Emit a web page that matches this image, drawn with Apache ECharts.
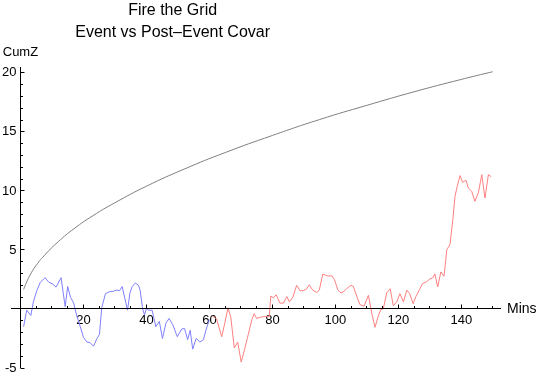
<!DOCTYPE html>
<html lang="en">
<head>
    <meta charset="UTF-8">
    <title>Fire the Grid</title>
    <script type="text/javascript" src="https://cdn.jsdelivr.net/npm/echarts@6/dist/echarts.min.js"></script>
    <style>
        html, body { margin: 0; padding: 0; background: #fff; }
    </style>
</head>
<body>

<div id="myChart" style="width: 540px;height: 377px;"></div>

<script type="text/javascript">
    // 数据
    var eventMins = [1, 2, 3.3, 4.1, 5.2, 6.3, 7.8, 8.9, 10.3, 11.3, 12.9, 14.2, 15, 15.9, 16.9, 17.9, 19, 20,
        21.1, 22.1, 23.2, 24.3, 25.1, 25.8, 27, 28.2, 29.5, 30.5, 31.5, 32.3, 34, 34.8, 35.5, 36.5, 37.5, 38,
        38.8, 39.4, 40, 40.7, 41.8, 43, 44.1, 45.1, 46.2, 47.2, 48.4, 49.8, 51.2, 52.1, 53.1, 53.9, 54.7,
        55.8, 57, 58.1, 59, 60];
    var eventZ = [-1.5, -0.1, -0.55, 0.6, 1.55, 2.25, 2.65, 2.3, 2.1, 1.85, 2.65, 0.2, 1.9, 1.0, 0.5, -0.6, -1.5, -2.4,
        -2.8, -2.85, -3.15, -2.5, -2.15, 0.1, 1.3, 1.45, 1.5, 1.6, 1.55, 1.9, -0.1, 1.4, 1.9, 2.2, 2.0, 1.6,
        0, -0.5, 0.05, -0.1, -0.1, -1.5, -1.05, -2.5, -1.2, -0.8, -1.35, -2.35, -1.7, -1.65, -2.6, -1.8, -3.4,
        -2.5, -2.8, -2.6, -1.7, -0.9];

    var postMins = [61, 62.3, 63.9, 64.9, 65.9, 66.8, 67.9, 69, 70.1, 71.2, 72.3, 73.5, 74.2, 75, 76.1, 77.5, 79,
        79.5, 80.3, 81.2, 82.4, 83.5, 84.6, 85.4, 86.5, 87.7, 88.8, 89.8, 90.9, 91.7, 92.8, 94.1, 94.9, 96,
        97.5, 98.9, 99.7, 100.8, 101.8, 102.5, 103.6, 104.9, 105.7, 106.8, 107.8, 109.1, 109.7, 110.5, 111.6,
        112.6, 113.6, 114.4, 115.2, 116.3, 117.4, 118.4, 119.5, 120.5, 121.6, 122.7, 123.6, 124.7, 125.6,
        126.7, 127.7, 129, 130, 130.9, 131.6, 132.5, 133.5, 134.5, 135.4, 136.4, 137.3, 138, 138.7, 139.6,
        140.4, 141.5, 142.2, 143.3, 144.3, 145.4, 146.5, 147.5, 148.6, 149.5];
    var postZ = [-0.6, -0.85, -2.35, -1.2, 0.1, -0.7, -3.3, -2.8, -4.5, -3.4, -2.2, -0.9, -0.4, -0.8, -0.7, -0.65, -0.65,
        1.1, 0.95, 1.2, 0.5, 0.5, 1.05, 0.6, 1.0, 2.0, 1.55, 1.55, 1.7, 2.05, 1.6, 1.4, 1.6, 2.95,
        2.8, 2.8, 2.5, 1.6, 1.35, 1.45, 1.72, 2.0, 1.92, 1.07, 0.37, 0.23, 0.08, 1.16, -0.42,
        -1.55, -0.62, -0.06, 0, 1.36, 1.72, 0.28, 0.6, 1.3, 0.6, 1.6, 1.3, 0.45, 1.07,
        1.64, 2.15, 2.32, 2.54, 2.63, 2.97, 1.86, 3.14, 2.77, 5.03, 5.45, 7.57, 9.55, 10.4, 11.3,
        10.73, 10.9, 10.25, 9.97, 9.12, 9.83, 11.38, 9.4, 11.38, 11.2];

    var boundMins = [1, 2, 3, 5, 8, 12, 17, 23, 30, 40, 52, 65, 80, 95, 110, 125, 140, 150];
    var boundZ = [1.65, 2.3, 2.85, 3.7, 4.65, 5.7, 6.8, 7.9, 9.0, 10.4, 11.85, 13.25, 14.7, 16.05, 17.25, 18.4, 19.45, 20.1];

    var xLabels = [20, 40, 60, 80, 100, 120, 140];
    var yLabels = [-5, 5, 10, 15, 20];

    function pairs(xs, ys) {
        var out = [];
        for (var i = 0; i < xs.length; i++) {
            out.push([xs[i], ys[i]]);
        }
        return out;
    }

    // 小刻度 (minor ticks)
    var xMinor = [];
    for (var t = 5; t <= 150; t += 5) {
        if (t % 20 !== 0) xMinor.push(t);
    }
    var yMinor = [];
    for (var u = -4; u <= 20; u++) {
        if (u % 5 !== 0) yMinor.push(u);
    }

    var font = 'Liberation Sans, Arial, sans-serif';

    // 坐标范围 + 轴交叉位置 (axes cross at x=0, y=0)
    var xMin = -3, xMax = 152.6, yMin = -5, yMax = 20.5;
    var gridL = 11, gridR = 39, gridT = 67, gridB = 9;
    var plotW = 540 - gridL - gridR, plotH = 377 - gridT - gridB;
    var xPerPx = (xMax - xMin) / plotW, yPerPx = (yMax - yMin) / plotH;
    var xOffset = -(0 - yMin) / yPerPx;   // move x labels up to y = 0
    var yOffset = -(0 - xMin) / xPerPx;   // move y labels right to x = 0

    var seriesList = [{
        name: 'bound',
        type: 'line',
        data: pairs(boundMins, boundZ),
        smooth: true,
        showSymbol: false,
        lineStyle: { color: '#808080', width: 1 },
        z: 2
    }, {
        name: 'event',
        type: 'line',
        data: pairs(eventMins, eventZ),
        showSymbol: false,
        lineStyle: { color: '#8080ff', width: 1 },
        z: 2
    }, {
        name: 'post',
        type: 'line',
        data: pairs(postMins, postZ),
        showSymbol: false,
        lineStyle: { color: '#ff8080', width: 1 },
        z: 2
    }];

    var myChart = echarts.init(document.getElementById('myChart'));

    myChart.setOption({
        animation: false,
        backgroundColor: '#fff',
        title: {
            text: 'Fire the Grid\nEvent vs Post\u2013Event Covar',
            left: 'center',
            top: 0,
            padding: 0,
            textAlign: 'center',
            textStyle: {
                fontFamily: font,
                fontSize: 16,
                fontWeight: 'normal',
                color: '#000',
                lineHeight: 22
            }
        },
        grid: {
            left: gridL,
            right: gridR,
            top: gridT,
            bottom: gridB,
            containLabel: false,
            outerBoundsMode: 'none'
        },
        xAxis: {
            type: 'value',
            min: xMin,
            max: xMax,
            position: 'bottom',
            offset: xOffset,
            name: 'Mins',
            nameLocation: 'end',
            nameGap: 6,
            nameTextStyle: { fontFamily: font, fontSize: 14, color: '#000' },
            splitLine: { show: false },
            axisLine: { show: false, onZero: false },
            axisTick: { show: false },
            axisLabel: { customValues: xLabels, margin: 5, fontFamily: font, fontSize: 13, color: '#000' }
        },
        yAxis: {
            type: 'value',
            min: yMin,
            max: yMax,
            position: 'left',
            offset: yOffset,
            name: 'CumZ',
            nameLocation: 'end',
            nameGap: 8,
            nameTextStyle: { fontFamily: font, fontSize: 13, color: '#000', align: 'center' },
            splitLine: { show: false },
            axisLine: { show: false, onZero: false },
            axisTick: { show: false },
            axisLabel: { customValues: yLabels, margin: 4, fontFamily: font, fontSize: 13, color: '#000' }
        },
        series: seriesList
    });

    // 坐标轴线和刻度: positions come from the chart's own scales (convertToPixel)
    function toPx(x, y) {
        return myChart.convertToPixel({ gridIndex: 0 }, [x, y]);
    }
    function crisp(v) {
        return Math.round(v - 0.5) + 0.5;
    }
    var axisGraphics = [];
    function seg(x1, y1, x2, y2) {
        axisGraphics.push({
            type: 'line',
            silent: true,
            z: 50,
            shape: { x1: x1, y1: y1, x2: x2, y2: y2 },
            style: { stroke: '#000', lineWidth: 1 }
        });
    }
    var o = toPx(0, 0), l = toPx(xMin, 0), r = toPx(xMax, 0), b = toPx(0, yMin), tp = toPx(0, yMax);
    var ax = crisp(o[0]), ay = crisp(o[1]);
    seg(l[0], ay, r[0], ay);       // x axis
    seg(ax, b[1], ax, tp[1]);      // y axis
    function xTicks(values, len) {
        for (var i = 0; i < values.length; i++) {
            var p = toPx(values[i], 0);
            seg(crisp(p[0]), ay, crisp(p[0]), ay - len);
        }
    }
    function yTicks(values, len) {
        for (var i = 0; i < values.length; i++) {
            var p = toPx(0, values[i]);
            seg(ax, crisp(p[1]), ax + len, crisp(p[1]));
        }
    }
    xTicks(xLabels, 4);
    xTicks(xMinor, 2.5);
    yTicks(yLabels, 4);
    yTicks(yMinor, 2.5);

    myChart.setOption({ graphic: { elements: axisGraphics } });
</script>
</body>
</html>
